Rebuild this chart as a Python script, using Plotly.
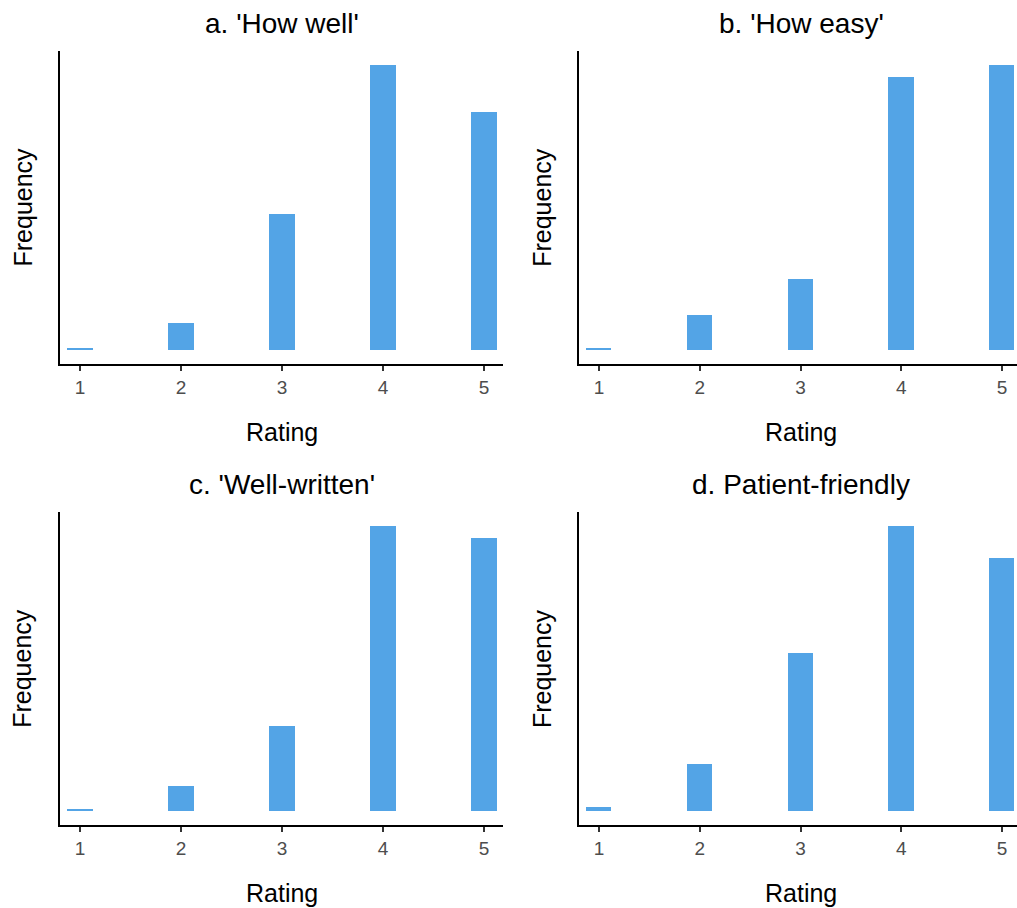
import plotly.graph_objects as go

# Rating distributions for four questionnaire items
ratings = [1, 2, 3, 4, 5]
how_well = [1, 13, 67, 140, 117]
how_easy = [1, 17, 35, 134, 140]
well_written = [1, 13, 44, 148, 142]
patient_friendly = [2, 22, 75, 135, 120]

panel_titles = ["a. 'How well'", "b. 'How easy'", "c. 'Well-written'", "d. Patient-friendly"]
x_title = "Rating"
y_title = "Frequency"
tick_labels = ["1", "2", "3", "4", "5"]

BAR_COLOR = "#53A4E6"
FONT = "Liberation Sans, Arial, sans-serif"
W, H = 1017, 908

def px_x(v):
    return v / W

def px_y(v):
    return 1 - v / H

# panel geometry in pixels: (left, right, top, bottom, x range, title centre x)
panels = [
    (60, 503, 51, 364, [0.802, 5.188], 281.5),
    (579.3, 1017, 51, 364, [0.804, 5.149], 801),
    (60, 503, 512.3, 825.3, [0.802, 5.188], 281.5),
    (579.3, 1017, 512.3, 825.3, [0.804, 5.149], 801),
]
series = [how_well, how_easy, well_written, patient_friendly]

fig = go.Figure()
annotations = []
for i, ((l, r, t, b, xr, tcx), vals, title) in enumerate(zip(panels, series, panel_titles)):
    n = "" if i == 0 else str(i + 1)
    fig.add_trace(go.Bar(
        x=ratings, y=vals, width=0.25,
        marker=dict(color=BAR_COLOR, line=dict(width=0)),
        xaxis="x" + n, yaxis="y" + n, showlegend=False,
    ))
    ymax = max(vals)
    fig.layout["xaxis" + n] = dict(
        domain=[px_x(l), px_x(r)], range=xr, anchor="y" + n,
        tickmode="array", tickvals=ratings, ticktext=tick_labels,
        showline=True, linecolor="black", linewidth=2,
        ticks="outside", ticklen=5, tickwidth=1.5, tickcolor="#333333",
        tickfont=dict(family=FONT, size=19, color="#4D4D4D"),
        showgrid=False, zeroline=False, fixedrange=True,
    )
    fig.layout["yaxis" + n] = dict(
        domain=[px_y(b), px_y(t)], range=[-0.05 * ymax, 1.05 * ymax], anchor="x" + n,
        showline=True, linecolor="black", linewidth=2,
        showticklabels=False, ticks="", showgrid=False, zeroline=False, fixedrange=True,
    )
    # panel title
    annotations.append(dict(
        text=title, x=px_x(tcx), y=px_y(t - 28), xref="paper", yref="paper",
        xanchor="center", yanchor="middle", showarrow=False,
        font=dict(family=FONT, size=28, color="black"),
    ))
    # x-axis title
    annotations.append(dict(
        text=x_title, x=px_x(tcx), y=px_y(b + 68), xref="paper", yref="paper",
        xanchor="center", yanchor="middle", showarrow=False,
        font=dict(family=FONT, size=25, color="black"),
    ))
    # y-axis title
    annotations.append(dict(
        text=y_title, x=px_x(l - 38), y=px_y((t + b) / 2), xref="paper", yref="paper",
        xanchor="center", yanchor="middle", showarrow=False, textangle=-90,
        font=dict(family=FONT, size=25, color="black"),
    ))

fig.update_layout(
    width=W, height=H,
    margin=dict(l=0, r=0, t=0, b=0),
    paper_bgcolor="white", plot_bgcolor="white",
    annotations=annotations, bargap=0,
)

fig.write_html("out.html")
